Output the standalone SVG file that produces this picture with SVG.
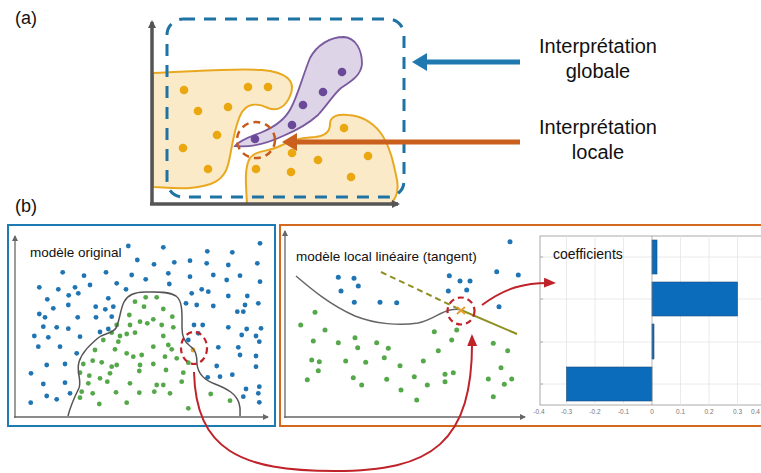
<svg xmlns="http://www.w3.org/2000/svg" width="761" height="473" viewBox="0 0 761 473">
<defs>
<style>
text{font-family:"Liberation Sans",Arial,sans-serif;fill:#111}
.lbl{font-size:18px}
.big{font-size:20px;text-anchor:middle}
.ptitle{font-size:13.5px}
.tick{font-size:6.5px;fill:#777;text-anchor:middle}
.ydot{fill:#eaa70f}
.pdot{fill:#6a4a98}
.bd{fill:#1f74b4}
.gd{fill:#55a84a}
.ax{stroke:#555;stroke-width:3.5;fill:none}
.axb{stroke:#666;stroke-width:1.3;fill:none}
.grid{stroke:#e4e4e4;stroke-width:0.8}
.bar{fill:#0b6cbc;stroke:#1d4f7c;stroke-width:0.6}
.red{stroke:#c0222a;stroke-width:2;fill:none}
</style>
<marker id="axhead" markerWidth="8" markerHeight="8" refX="6" refY="4" orient="auto" markerUnits="userSpaceOnUse">
<path d="M0,0 L8,4 L0,8 Z" fill="#555"/>
</marker>
<marker id="axsm" markerWidth="6" markerHeight="6" refX="5" refY="3" orient="auto" markerUnits="userSpaceOnUse">
<path d="M0,0 L6,3 L0,6 Z" fill="#666"/>
</marker>
<marker id="redhead" markerWidth="12" markerHeight="10" refX="10" refY="5" orient="auto" markerUnits="userSpaceOnUse">
<path d="M0,0 L12,5 L0,10 Z" fill="#c0222a"/>
</marker>
</defs>
<rect width="761" height="473" fill="#ffffff"/>

<text class="lbl" x="15" y="24">(a)</text>
<text class="lbl" x="15" y="212">(b)</text>

<g id="panel-a">
<path d="M153,73 C190,72 230,68 262,70 C285,72 297,80 290,96 C286,106 278,112 268,108 C258,103 248,103 242,112 C234,125 232,150 228,165 C224,180 213,186 190,188 C175,189 160,187 153,187 Z" fill="#fbeac8" stroke="#e8a820" stroke-width="2"/>
<path d="M247,204 C246,185 244,168 250,158 C256,150 268,152 280,146 C292,140 300,138 315,137 C325,136 330,132 330,124 C330,116 338,114 348,115 C362,116 372,122 380,132 C390,145 394,165 397,180 C399,192 395,200 390,204 Z" fill="#fbeac8" stroke="#e8a820" stroke-width="2"/>
<path d="M235,146 C240,140 250,137 260,133 C275,127 285,120 291,108 C298,95 303,75 310,58 C317,45 330,37 344,37 C356,38 362,50 362,64 C361,76 350,82 341,88 C333,95 328,104 318,115 C308,124 295,131 283,136 C268,143 252,148 235,146 Z" fill="#ddd4e8" stroke="#7a5a9e" stroke-width="1.8"/>
<g>
<circle class="ydot" cx="184" cy="90" r="4.3"/><circle class="ydot" cx="248" cy="87" r="4.3"/><circle class="ydot" cx="268" cy="87" r="4.3"/>
<circle class="ydot" cx="198" cy="111" r="4.3"/><circle class="ydot" cx="228" cy="107" r="4.3"/><circle class="ydot" cx="217" cy="135" r="4.3"/>
<circle class="ydot" cx="183" cy="148" r="4.3"/><circle class="ydot" cx="208" cy="169" r="4.3"/>
<circle class="ydot" cx="344" cy="128" r="4.3"/><circle class="ydot" cx="292" cy="153" r="4.3"/><circle class="ydot" cx="318" cy="160" r="4.3"/>
<circle class="ydot" cx="368" cy="156" r="4.3"/><circle class="ydot" cx="256" cy="169" r="4.3"/><circle class="ydot" cx="291" cy="172" r="4.3"/>
<circle class="ydot" cx="351" cy="177" r="4.3"/>
</g>
<g>
<circle class="pdot" cx="342" cy="72" r="4.3"/><circle class="pdot" cx="323" cy="92" r="4.3"/><circle class="pdot" cx="303" cy="105" r="4.3"/>
<circle class="pdot" cx="292" cy="125" r="4.3"/><circle class="pdot" cx="255" cy="139" r="4.3"/>
</g>
<rect x="167" y="19" width="237" height="178" rx="16" fill="none" stroke="#1e73a4" stroke-width="3" stroke-dasharray="12 9"/>
<path class="ax" d="M152,204 L152,22" marker-end="url(#axhead)"/>
<path class="ax" d="M150,204 L398,204" marker-end="url(#axhead)"/>
<ellipse cx="256" cy="140" rx="19" ry="18" fill="none" stroke="#c95a1e" stroke-width="2.5" stroke-dasharray="7 5"/>
</g>

<g id="arrow-global">
<line x1="520" y1="62" x2="424" y2="62" stroke="#1f78b0" stroke-width="5"/>
<path d="M412,62 L427,53 L427,71 Z" fill="#1f78b0"/>
</g>
<g id="arrow-local">
<line x1="520" y1="142" x2="294" y2="142" stroke="#c9601d" stroke-width="5"/>
<path d="M282,142 L297,133 L297,151 Z" fill="#c9601d"/>
</g>
<g id="label-global">
<text class="big" x="598" y="53">Interprétation</text>
<text class="big" x="598" y="78">globale</text>
</g>
<g id="label-local">
<text class="big" x="598" y="134">Interprétation</text>
<text class="big" x="598" y="159">locale</text>
</g>

<g id="panel-original">
<rect x="8" y="225" width="267" height="201" fill="#ffffff" stroke="#1e7ab2" stroke-width="2"/>
<path class="axb" d="M15,418 L15,236" marker-end="url(#axsm)"/>
<path class="axb" d="M14,417 L268,417" marker-end="url(#axsm)"/>
<text class="ptitle" x="30" y="257">modèle original</text>
<g>
<circle class="bd" cx="128.3" cy="246" r="2.4"/><circle class="bd" cx="163.3" cy="247.3" r="2.4"/><circle class="bd" cx="207.3" cy="251.3" r="2.4"/>
<circle class="bd" cx="260" cy="243.3" r="2.4"/><circle class="bd" cx="232.3" cy="252.3" r="2.4"/><circle class="bd" cx="137.3" cy="260" r="2.4"/>
<circle class="bd" cx="154" cy="264.3" r="2.4"/><circle class="bd" cx="174.3" cy="262.3" r="2.4"/><circle class="bd" cx="190" cy="260.7" r="2.4"/>
<circle class="bd" cx="206.7" cy="263.3" r="2.4"/><circle class="bd" cx="228.3" cy="265" r="2.4"/><circle class="bd" cx="257.3" cy="263.3" r="2.4"/>
<circle class="bd" cx="62.7" cy="272.3" r="2.4"/><circle class="bd" cx="84" cy="275.7" r="2.4"/><circle class="bd" cx="106" cy="272.3" r="2.4"/>
<circle class="bd" cx="131.7" cy="275" r="2.4"/><circle class="bd" cx="145.7" cy="279.3" r="2.4"/><circle class="bd" cx="168.3" cy="273.3" r="2.4"/>
<circle class="bd" cx="190" cy="276.7" r="2.4"/><circle class="bd" cx="213.3" cy="275" r="2.4"/><circle class="bd" cx="226.7" cy="280" r="2.4"/>
<circle class="bd" cx="240" cy="275.7" r="2.4"/><circle class="bd" cx="260" cy="281.7" r="2.4"/><circle class="bd" cx="39.3" cy="287.3" r="2.4"/>
<circle class="bd" cx="58.3" cy="289.3" r="2.4"/><circle class="bd" cx="75" cy="287.3" r="2.4"/><circle class="bd" cx="90" cy="285" r="2.4"/>
<circle class="bd" cx="116.7" cy="283.3" r="2.4"/><circle class="bd" cx="126" cy="289.3" r="2.4"/><circle class="bd" cx="169.3" cy="284" r="2.4"/>
<circle class="bd" cx="191.7" cy="293.3" r="2.4"/><circle class="bd" cx="201.7" cy="289.3" r="2.4"/><circle class="bd" cx="208.3" cy="291.7" r="2.4"/>
<circle class="bd" cx="228.3" cy="296" r="2.4"/><circle class="bd" cx="247.3" cy="296" r="2.4"/><circle class="bd" cx="47.3" cy="299.3" r="2.4"/>
<circle class="bd" cx="68.7" cy="295.3" r="2.4"/><circle class="bd" cx="78.3" cy="293.3" r="2.4"/><circle class="bd" cx="108.3" cy="298.3" r="2.4"/>
<circle class="bd" cx="186" cy="303.3" r="2.4"/><circle class="bd" cx="196.7" cy="305" r="2.4"/><circle class="bd" cx="213.3" cy="306" r="2.4"/>
<circle class="bd" cx="245" cy="305" r="2.4"/><circle class="bd" cx="258.3" cy="303.3" r="2.4"/><circle class="bd" cx="39.3" cy="314" r="2.4"/>
<circle class="bd" cx="53.3" cy="308.3" r="2.4"/><circle class="bd" cx="68.3" cy="305" r="2.4"/><circle class="bd" cx="95.7" cy="306.7" r="2.4"/>
<circle class="bd" cx="105.3" cy="309.3" r="2.4"/><circle class="bd" cx="113.3" cy="306.7" r="2.4"/><circle class="bd" cx="243.3" cy="311.7" r="2.4"/>
<circle class="bd" cx="237.3" cy="311.7" r="2.4"/><circle class="bd" cx="45" cy="317.3" r="2.4"/><circle class="bd" cx="77.7" cy="317.3" r="2.4"/>
<circle class="bd" cx="96" cy="317.3" r="2.4"/><circle class="bd" cx="111.7" cy="316.7" r="2.4"/><circle class="bd" cx="43.3" cy="326.7" r="2.4"/>
<circle class="bd" cx="56.7" cy="327.3" r="2.4"/><circle class="bd" cx="68.3" cy="328.7" r="2.4"/><circle class="bd" cx="100" cy="332" r="2.4"/>
<circle class="bd" cx="108.3" cy="329" r="2.4"/><circle class="bd" cx="194" cy="325" r="2.4"/><circle class="bd" cx="202.7" cy="325" r="2.4"/>
<circle class="bd" cx="198.3" cy="333.3" r="2.4"/><circle class="bd" cx="228.3" cy="327.3" r="2.4"/><circle class="bd" cx="246.7" cy="329" r="2.4"/>
<circle class="bd" cx="261" cy="328.3" r="2.4"/><circle class="bd" cx="34.3" cy="336" r="2.4"/><circle class="bd" cx="48.3" cy="337.3" r="2.4"/>
<circle class="bd" cx="80" cy="336.7" r="2.4"/><circle class="bd" cx="188.3" cy="340" r="2.4"/><circle class="bd" cx="241.7" cy="335" r="2.4"/>
<circle class="bd" cx="256" cy="336" r="2.4"/><circle class="bd" cx="38.3" cy="346.7" r="2.4"/><circle class="bd" cx="60" cy="346.7" r="2.4"/>
<circle class="bd" cx="218.3" cy="347.3" r="2.4"/><circle class="bd" cx="238.3" cy="347.3" r="2.4"/><circle class="bd" cx="259.3" cy="341.7" r="2.4"/>
<circle class="bd" cx="76.7" cy="353.3" r="2.4"/><circle class="bd" cx="46.7" cy="365" r="2.4"/><circle class="bd" cx="65" cy="364" r="2.4"/>
<circle class="bd" cx="216.7" cy="366" r="2.4"/><circle class="bd" cx="240" cy="355" r="2.4"/><circle class="bd" cx="256" cy="356" r="2.4"/>
<circle class="bd" cx="31" cy="373.3" r="2.4"/><circle class="bd" cx="207.7" cy="377.3" r="2.4"/><circle class="bd" cx="220" cy="376.7" r="2.4"/>
<circle class="bd" cx="232.3" cy="374.7" r="2.4"/><circle class="bd" cx="256" cy="366.7" r="2.4"/><circle class="bd" cx="43.3" cy="384" r="2.4"/>
<circle class="bd" cx="65" cy="382.7" r="2.4"/><circle class="bd" cx="246" cy="389" r="2.4"/><circle class="bd" cx="259.3" cy="386.7" r="2.4"/>
<circle class="bd" cx="46.7" cy="396" r="2.4"/><circle class="bd" cx="56.7" cy="399.3" r="2.4"/><circle class="bd" cx="70" cy="393.3" r="2.4"/>
<circle class="bd" cx="243.3" cy="396.7" r="2.4"/><circle class="bd" cx="258.3" cy="393.3" r="2.4"/><circle class="bd" cx="30.7" cy="402.7" r="2.4"/>
<circle class="bd" cx="259.3" cy="402.3" r="2.4"/>
</g>
<g>
<circle class="gd" cx="135" cy="301.7" r="2.4"/><circle class="gd" cx="145.7" cy="297.3" r="2.4"/><circle class="gd" cx="156.7" cy="297.3" r="2.4"/>
<circle class="gd" cx="144" cy="306.7" r="2.4"/><circle class="gd" cx="163.3" cy="309" r="2.4"/><circle class="gd" cx="129.3" cy="315" r="2.4"/>
<circle class="gd" cx="153.3" cy="319.3" r="2.4"/><circle class="gd" cx="172.3" cy="316.7" r="2.4"/><circle class="gd" cx="116.7" cy="325" r="2.4"/>
<circle class="gd" cx="130" cy="325" r="2.4"/><circle class="gd" cx="140" cy="321.7" r="2.4"/><circle class="gd" cx="147.3" cy="323.3" r="2.4"/>
<circle class="gd" cx="161.7" cy="325" r="2.4"/><circle class="gd" cx="173.3" cy="327.3" r="2.4"/><circle class="gd" cx="111.7" cy="332.7" r="2.4"/>
<circle class="gd" cx="120" cy="336" r="2.4"/><circle class="gd" cx="126.7" cy="334" r="2.4"/><circle class="gd" cx="135" cy="332.7" r="2.4"/>
<circle class="gd" cx="163.3" cy="336" r="2.4"/><circle class="gd" cx="103.3" cy="340" r="2.4"/><circle class="gd" cx="118.3" cy="341.7" r="2.4"/>
<circle class="gd" cx="153.3" cy="346.7" r="2.4"/><circle class="gd" cx="168.3" cy="345" r="2.4"/><circle class="gd" cx="171.7" cy="349.3" r="2.4"/>
<circle class="gd" cx="95" cy="350" r="2.4"/><circle class="gd" cx="115" cy="349.3" r="2.4"/><circle class="gd" cx="126.7" cy="353.3" r="2.4"/>
<circle class="gd" cx="133.3" cy="356.7" r="2.4"/><circle class="gd" cx="141.7" cy="355" r="2.4"/><circle class="gd" cx="165" cy="356.7" r="2.4"/>
<circle class="gd" cx="176.7" cy="358.3" r="2.4"/><circle class="gd" cx="83.3" cy="364" r="2.4"/><circle class="gd" cx="92.7" cy="360.7" r="2.4"/>
<circle class="gd" cx="101.7" cy="362.3" r="2.4"/><circle class="gd" cx="111.7" cy="366.7" r="2.4"/><circle class="gd" cx="116.7" cy="365" r="2.4"/>
<circle class="gd" cx="140" cy="365" r="2.4"/><circle class="gd" cx="153.3" cy="364" r="2.4"/><circle class="gd" cx="188.3" cy="362.7" r="2.4"/>
<circle class="gd" cx="80" cy="372.7" r="2.4"/><circle class="gd" cx="89.3" cy="375.7" r="2.4"/><circle class="gd" cx="110" cy="373.3" r="2.4"/>
<circle class="gd" cx="139.3" cy="371" r="2.4"/><circle class="gd" cx="166" cy="370" r="2.4"/><circle class="gd" cx="183.3" cy="372.7" r="2.4"/>
<circle class="gd" cx="88.3" cy="383.3" r="2.4"/><circle class="gd" cx="100" cy="378.3" r="2.4"/><circle class="gd" cx="107.3" cy="381.7" r="2.4"/>
<circle class="gd" cx="130" cy="383.3" r="2.4"/><circle class="gd" cx="156.7" cy="385" r="2.4"/><circle class="gd" cx="163.3" cy="385" r="2.4"/>
<circle class="gd" cx="181.7" cy="381.7" r="2.4"/><circle class="gd" cx="81.7" cy="391.7" r="2.4"/><circle class="gd" cx="92.7" cy="393.3" r="2.4"/>
<circle class="gd" cx="116" cy="392.3" r="2.4"/><circle class="gd" cx="139.3" cy="392.7" r="2.4"/><circle class="gd" cx="154.3" cy="391.7" r="2.4"/>
<circle class="gd" cx="170" cy="393.3" r="2.4"/><circle class="gd" cx="210.7" cy="394" r="2.4"/><circle class="gd" cx="80" cy="397.7" r="2.4"/>
<circle class="gd" cx="99.3" cy="404" r="2.4"/><circle class="gd" cx="126.7" cy="402.7" r="2.4"/><circle class="gd" cx="188.3" cy="408.3" r="2.4"/>
<circle class="gd" cx="230" cy="400.7" r="2.4"/>
</g>
<circle cx="193" cy="350" r="2.4" fill="#e6a030"/>
<path d="M68,416 C70,408 74,398 79,388 C82,380 76,372 79,362 C82,352 90,345 98,338 C104,333 112,334 116,328 C120,320 120,310 124,302 C128,294 136,292 145,292 C155,292 168,291 176,296 C183,301 182,315 182,328 C182,336 184,342 190,346 C196,350 197,356 197,364 C198,374 204,380 215,384 C228,389 236,394 239,403 C241,409 240,414 240,416" fill="none" stroke="#555" stroke-width="1.5"/>
<ellipse cx="194" cy="348" rx="13" ry="16" fill="none" stroke="#c0222a" stroke-width="2.2" stroke-dasharray="6 4"/>
</g>

<g id="panel-local">
<rect x="280" y="225" width="485" height="201" fill="#ffffff" stroke="#d2691e" stroke-width="2"/>
<path class="axb" d="M285,418 L285,231" marker-end="url(#axsm)"/>
<path class="axb" d="M284,417 L525,417" marker-end="url(#axsm)"/>
<text class="ptitle" x="296" y="261">modèle local linéaire (tangent)</text>
<g>
<circle class="bd" cx="510" cy="241.7" r="2.5"/><circle class="bd" cx="338.3" cy="277.3" r="2.5"/><circle class="bd" cx="354" cy="278.3" r="2.5"/>
<circle class="bd" cx="358.3" cy="286" r="2.5"/><circle class="bd" cx="341" cy="291" r="2.5"/><circle class="bd" cx="354.3" cy="302.3" r="2.5"/>
<circle class="bd" cx="380" cy="302.3" r="2.5"/><circle class="bd" cx="396.7" cy="302.7" r="2.5"/><circle class="bd" cx="449.3" cy="275.7" r="2.5"/>
<circle class="bd" cx="460" cy="281" r="2.5"/><circle class="bd" cx="470" cy="281" r="2.5"/><circle class="bd" cx="448.3" cy="291" r="2.5"/>
<circle class="bd" cx="466.7" cy="290" r="2.5"/><circle class="bd" cx="496.7" cy="271.7" r="2.5"/><circle class="bd" cx="518.3" cy="275" r="2.5"/>
<circle class="bd" cx="499" cy="306.7" r="2.5"/>
</g>
<g>
<circle class="gd" cx="315" cy="312.3" r="2.5"/><circle class="gd" cx="300.7" cy="325" r="2.5"/><circle class="gd" cx="325" cy="330" r="2.5"/>
<circle class="gd" cx="313.3" cy="341" r="2.5"/><circle class="gd" cx="338.3" cy="342.7" r="2.5"/><circle class="gd" cx="355" cy="337.7" r="2.5"/>
<circle class="gd" cx="357.7" cy="347.7" r="2.5"/><circle class="gd" cx="376.7" cy="342.7" r="2.5"/><circle class="gd" cx="388.3" cy="348.3" r="2.5"/>
<circle class="gd" cx="311.7" cy="360" r="2.5"/><circle class="gd" cx="319.3" cy="361.7" r="2.5"/><circle class="gd" cx="345.7" cy="361" r="2.5"/>
<circle class="gd" cx="365.7" cy="362.3" r="2.5"/><circle class="gd" cx="384.3" cy="357.7" r="2.5"/><circle class="gd" cx="400" cy="365.7" r="2.5"/>
<circle class="gd" cx="318.3" cy="370.7" r="2.5"/><circle class="gd" cx="307.3" cy="379.7" r="2.5"/><circle class="gd" cx="353.3" cy="377.7" r="2.5"/>
<circle class="gd" cx="361.7" cy="385" r="2.5"/><circle class="gd" cx="386.7" cy="379.3" r="2.5"/><circle class="gd" cx="401" cy="390" r="2.5"/>
<circle class="gd" cx="414.3" cy="376.7" r="2.5"/><circle class="gd" cx="416.7" cy="400" r="2.5"/><circle class="gd" cx="423.3" cy="361" r="2.5"/>
<circle class="gd" cx="427.3" cy="385" r="2.5"/><circle class="gd" cx="434.3" cy="331.7" r="2.5"/><circle class="gd" cx="438.3" cy="350.7" r="2.5"/>
<circle class="gd" cx="445" cy="374.3" r="2.5"/><circle class="gd" cx="445" cy="381.7" r="2.5"/><circle class="gd" cx="453.3" cy="372.7" r="2.5"/>
<circle class="gd" cx="451.7" cy="340" r="2.5"/><circle class="gd" cx="456.7" cy="330" r="2.5"/><circle class="gd" cx="493.3" cy="343.3" r="2.5"/>
<circle class="gd" cx="507.7" cy="350.7" r="2.5"/><circle class="gd" cx="501" cy="367.7" r="2.5"/><circle class="gd" cx="488.3" cy="379" r="2.5"/>
<circle class="gd" cx="511.7" cy="379" r="2.5"/><circle class="gd" cx="504.3" cy="384.3" r="2.5"/><circle class="gd" cx="493.3" cy="396.7" r="2.5"/>
</g>
<path d="M296,276 C310,288 330,305 355,316 C375,324 400,326 418,323 C432,320 440,312 450,310 C455,309 458,309 461,310" fill="none" stroke="#666" stroke-width="1.5"/>
<line x1="381" y1="272" x2="461" y2="310" stroke="#8f8f22" stroke-width="2" stroke-dasharray="6 4"/>
<line x1="461" y1="310" x2="517" y2="334" stroke="#8f8f22" stroke-width="2"/>
<path d="M457,307 L465,314 M465,307 L457,314" stroke="#e6a030" stroke-width="2"/>
<ellipse cx="461" cy="311" rx="13.5" ry="13.5" fill="none" stroke="#c0222a" stroke-width="2.2" stroke-dasharray="6 4"/>
</g>

<g id="coefficients-chart">
<rect x="540" y="236" width="225" height="169" fill="#ffffff" stroke="#aaa" stroke-width="1"/>
<g class="grid">
<line x1="566.5" y1="236" x2="566.5" y2="405"/><line x1="595" y1="236" x2="595" y2="405"/>
<line x1="623.5" y1="236" x2="623.5" y2="405"/><line x1="680.5" y1="236" x2="680.5" y2="405"/>
<line x1="709" y1="236" x2="709" y2="405"/><line x1="737.5" y1="236" x2="737.5" y2="405"/>
<line x1="540" y1="257" x2="761" y2="257"/><line x1="540" y1="299" x2="761" y2="299"/>
<line x1="540" y1="342" x2="761" y2="342"/><line x1="540" y1="384" x2="761" y2="384"/>
</g>
<g stroke="#999" stroke-width="0.8">
<line x1="540" y1="257" x2="543" y2="257"/><line x1="540" y1="299" x2="543" y2="299"/>
<line x1="540" y1="342" x2="543" y2="342"/><line x1="540" y1="384" x2="543" y2="384"/>
</g>
<rect class="bar" x="652" y="240" width="5" height="34"/>
<rect class="bar" x="652" y="282" width="85.5" height="34"/>
<rect class="bar" x="652" y="324" width="2" height="35"/>
<rect class="bar" x="566.5" y="367" width="85.5" height="34"/>
<line x1="652" y1="236" x2="652" y2="405" stroke="#888" stroke-width="0.6"/>
<text class="ptitle" x="553" y="259" style="font-size:14px">coefficients</text>
<text class="tick" x="539" y="414">-0.4</text><text class="tick" x="566.5" y="414">-0.3</text>
<text class="tick" x="595" y="414">-0.2</text><text class="tick" x="623.5" y="414">-0.1</text>
<text class="tick" x="652" y="414">0</text><text class="tick" x="680.5" y="414">0.1</text>
<text class="tick" x="709" y="414">0.2</text><text class="tick" x="737.5" y="414">0.3</text>
<text class="tick" x="760" y="414" style="text-anchor:end">0.4</text>
</g>

<g id="connectors">
<path class="red" d="M194,372 C196,450 240,471 335,471 C430,471 474,445 472,336" marker-end="url(#redhead)"/>
<path class="red" d="M482,305 C505,288 525,282 554,283" marker-end="url(#redhead)"/>
</g>
</svg>
